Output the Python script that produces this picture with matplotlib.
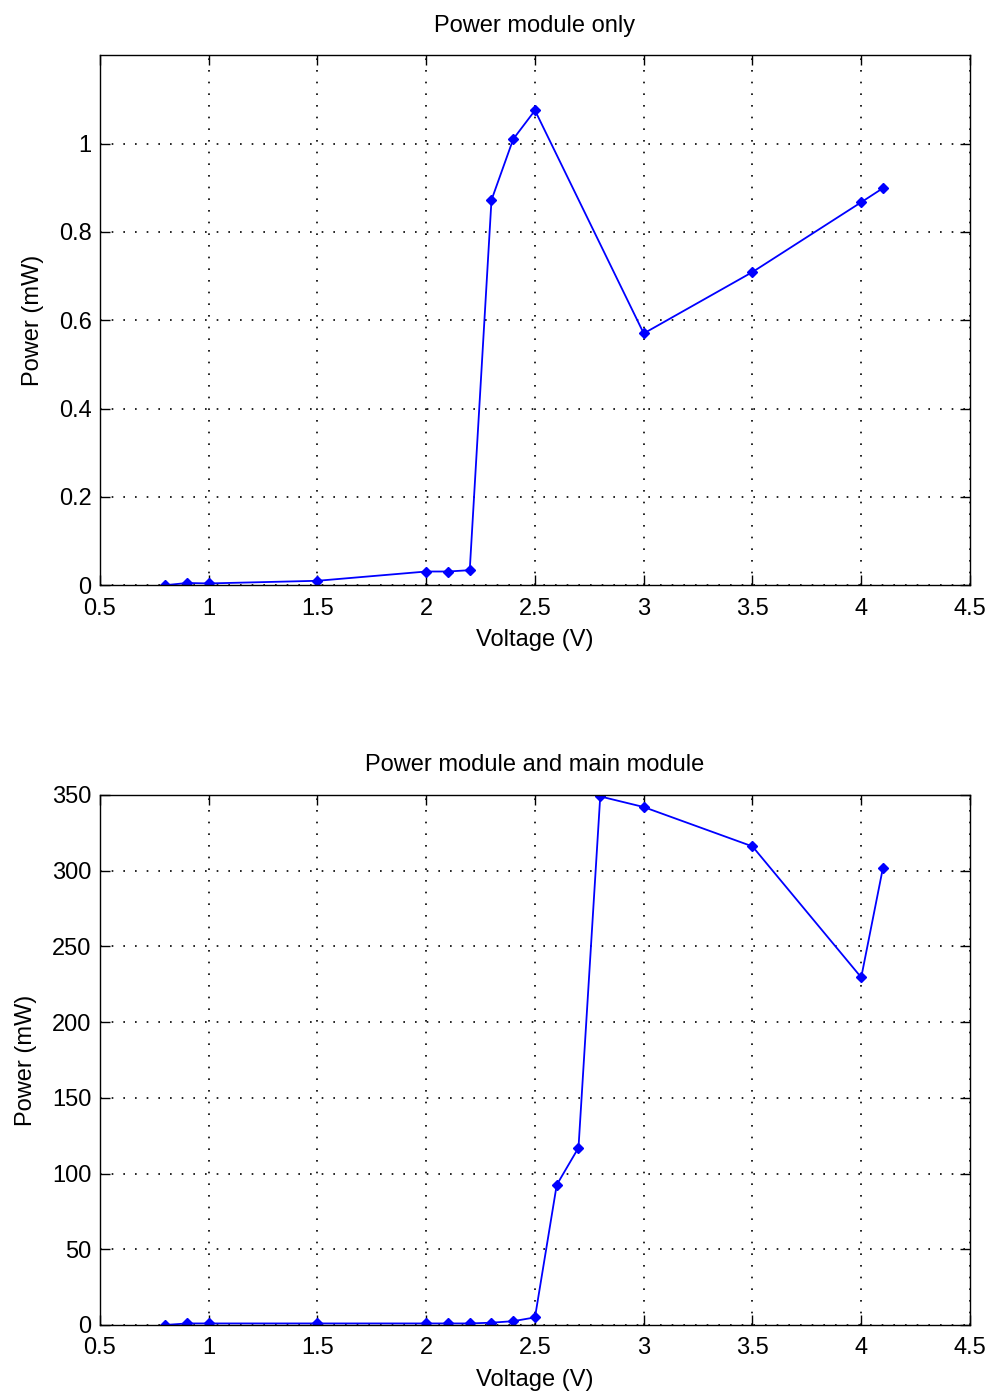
import matplotlib
matplotlib.use('Agg')
from matplotlib import pyplot as plt

plt.rcParams['font.family'] = ['Liberation Sans', 'DejaVu Sans']

# power module only
v1 = [0.8, 0.9, 1.0, 1.5, 2.0, 2.1, 2.2, 2.3, 2.4, 2.5, 3.0, 3.5, 4.0, 4.1]
p1 = [0.0, 0.005, 0.004, 0.01, 0.031, 0.031, 0.034, 0.872, 1.01, 1.075, 0.57, 0.709, 0.867, 0.899]

# power module and main module
v2 = [0.8, 0.9, 1.0, 1.5, 2.0, 2.1, 2.2, 2.3, 2.4, 2.5, 2.6, 2.7, 2.8, 3.0, 3.5, 4.0, 4.1]
p2 = [0.0, 1.0, 1.0, 1.0, 1.0, 1.0, 1.0, 1.5, 2.5, 5.0, 92.5, 117, 349, 342, 316, 229.5, 302]

xticks = [0.5, 1, 1.5, 2, 2.5, 3, 3.5, 4, 4.5]
yticks1 = [0, 0.2, 0.4, 0.6, 0.8, 1]
yticks2 = [0, 50, 100, 150, 200, 250, 300, 350]

fig = plt.figure(figsize=(9.92, 14), dpi=100)
ax1 = fig.add_axes([0.1008, 0.582, 0.877, 0.3786])
ax2 = fig.add_axes([0.1008, 0.0536, 0.877, 0.3786])

setups = [
    (ax1, v1, p1, yticks1, (0, 1.2), 'Power module only', ['0', '0.2', '0.4', '0.6', '0.8', '1']),
    (ax2, v2, p2, yticks2, (0, 350), 'Power module and main module', [str(t) for t in yticks2]),
]

for ax, x, y, yt, ylim, title, ylabels in setups:
    ax.plot(x, y, '-', color='#0000ff', lw=1.3, marker='D', ms=5, mfc='#0000ff', mec='#0000ff')
    ax.set_xlim(0.5, 4.5)
    ax.set_ylim(*ylim)
    ax.set_xticks(xticks)
    ax.set_xticklabels(['0.5', '1', '1.5', '2', '2.5', '3', '3.5', '4', '4.5'])
    ax.set_yticks(yt)
    ax.set_yticklabels(ylabels)
    ax.grid(True, color='black', lw=1.2, linestyle=(0, (1, 6)))
    ax.tick_params(direction='in', length=7, width=1, top=True, right=True, labelsize=17)
    ax.tick_params(axis='x', pad=9)
    ax.tick_params(axis='y', pad=6)
    for s in ax.spines.values():
        s.set_linewidth(1)
    ax.set_title(title, fontsize=17, pad=17)
    ax.set_xlabel('Voltage (V)', fontsize=17, labelpad=7)
    ax.set_ylabel('Power (mW)', fontsize=17, labelpad=11)

fig.savefig('out.png', dpi=100)
